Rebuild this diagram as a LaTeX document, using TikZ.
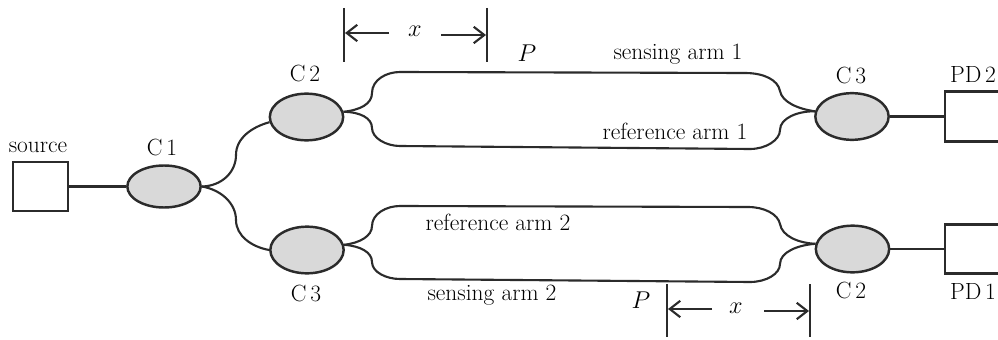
\documentclass[tikz,border=0pt]{standalone}
\usepackage{amsmath,amssymb}
\usetikzlibrary{shapes.geometric,arrows.meta}
\definecolor{inkline}{HTML}{2B2B2B}
\definecolor{coupler}{HTML}{D9D9D9}
\tikzset{
  fiber/.style={draw=inkline,line width=1.8pt},
  couplerbox/.style={ellipse,draw=inkline,line width=2.1pt,fill=coupler,minimum width=2.2cm,minimum height=1.4cm,inner sep=0pt},
  detbox/.style={rectangle,draw=inkline,line width=1.8pt,fill=white,inner sep=0pt},
  lbl/.style={text=black,font=\fontsize{20}{22}\selectfont,inner sep=0pt},
  dimarrow/.style={draw=inkline,line width=1.8pt,-{Straight Barb[length=9pt,width=14pt,line width=1.8pt]}}
}

\begin{document}
\begin{tikzpicture}[x=0.03cm,y=-0.03cm]
\clip (0,0) rectangle (998,340);
% boxes and couplers
\node[detbox,minimum width=1.66cm,minimum height=1.47cm] (source) at (40.5,186.5) {};
\node[couplerbox,minimum height=1.26cm] (c1) at (164,186.5) {};
\node[couplerbox] (c2a) at (306.5,117) {};
\node[couplerbox] (c3a) at (307,250) {};
\node[couplerbox] (c3b) at (852,116.5) {};
\node[couplerbox] (c2b) at (852.5,249) {};
\node[detbox,minimum width=2.4cm,minimum height=1.5cm] (pd2) at (985,116.5) {};
\node[detbox,minimum width=2.4cm,minimum height=1.47cm] (pd1) at (985,249) {};
% straight links
\draw[fiber] (source.east) -- (c1.west);
\draw[fiber] (c3b.east) -- (pd2.west);
\draw[fiber] (c2b.east) -- (pd1.west);
% first splitter
\draw[fiber] (c1.east) .. controls (222,186) and (236,172) .. (236,155)
  .. controls (236,138) and (252,127) .. (c2a.188);
\draw[fiber] (c1.east) .. controls (222,190) and (236,204) .. (236,220)
  .. controls (236,236) and (252,247) .. (c3a.west);
% upper arms
\draw[fiber] (c2a.8) .. controls (360,110) and (372,104) .. (372,93)
  .. controls (372,80) and (386,72) .. (400,72)
  -- (745,73) .. controls (764,73) and (778,80) .. (780,91)
  .. controls (782,102) and (798,109) .. (c3b.172);
\draw[fiber] (c2a.8) .. controls (360,112) and (372,118) .. (372,128)
  .. controls (372,138) and (386,146) .. (400,146)
  -- (750,149) .. controls (766,149) and (780,140) .. (780,130)
  .. controls (780,118) and (798,111) .. (c3b.172);
% lower arms
\draw[fiber] (c3a.8) .. controls (360,243) and (372,236) .. (372,226)
  .. controls (372,214) and (386,206) .. (400,206)
  -- (748,207) .. controls (764,207) and (778,214) .. (780,224)
  .. controls (782,236) and (798,243) .. (c2b.172);
\draw[fiber] (c3a.8) .. controls (360,246) and (372,252) .. (372,262)
  .. controls (372,272) and (386,279) .. (400,279)
  -- (750,282) .. controls (766,282) and (780,274) .. (780,264)
  .. controls (780,252) and (798,245) .. (c2b.172);
% upper distance mark
\coordinate (tl1) at (344,8);
\coordinate (tl2) at (344,62);
\coordinate (tr1) at (487,8);
\coordinate (tr2) at (487,62);
\draw[fiber] (tl1) -- (tl2);
\draw[fiber] (tr1) -- (tr2);
\coordinate (al1) at (389,33);
\coordinate (al2) at (345,33);
\coordinate (ar1) at (441,35);
\coordinate (ar2) at (486,35);
\draw[dimarrow] (al1) -- (al2);
\draw[dimarrow] (ar1) -- (ar2);
% lower distance mark
\coordinate (bl1) at (667,284);
\coordinate (bl2) at (667,337);
\coordinate (br1) at (810,284);
\coordinate (br2) at (810,337);
\draw[fiber] (bl1) -- (bl2);
\draw[fiber] (br1) -- (br2);
\coordinate (cl1) at (712,309);
\coordinate (cl2) at (668,309);
\coordinate (cr1) at (764,311);
\coordinate (cr2) at (809,311);
\draw[dimarrow] (cl1) -- (cl2);
\draw[dimarrow] (cr1) -- (cr2);
% labels
\node[lbl] (tsource) at (38,147) {source};
\node[lbl] (tc1) at (162,147) {C\,1};
\node[lbl] (tc2a) at (305,73) {C\,2};
\node[lbl] (tc3a) at (306,293) {C\,3};
\node[lbl] (tc3b) at (851,75) {C\,3};
\node[lbl] (tc2b) at (851,290) {C\,2};
\node[lbl] (tpd2) at (973,74) {PD\,2};
\node[lbl] (tpd1) at (973,291) {PD\,1};
\node[lbl] (ts1) at (678,54) {sensing arm 1};
\node[lbl] (tr1n) at (675,131) {reference arm 1};
\node[lbl] (tr2n) at (498,222) {reference arm 2};
\node[lbl] (ts2) at (492,295) {sensing arm 2};
\node[lbl] (tx1) at (415,31) {$x$};
\node[lbl] (tx2) at (736,308) {$x$};
\node[lbl] (tp1) at (527,53) {$P$};
\node[lbl] (tp2) at (641,300) {$P$};
\end{tikzpicture}
\end{document}
